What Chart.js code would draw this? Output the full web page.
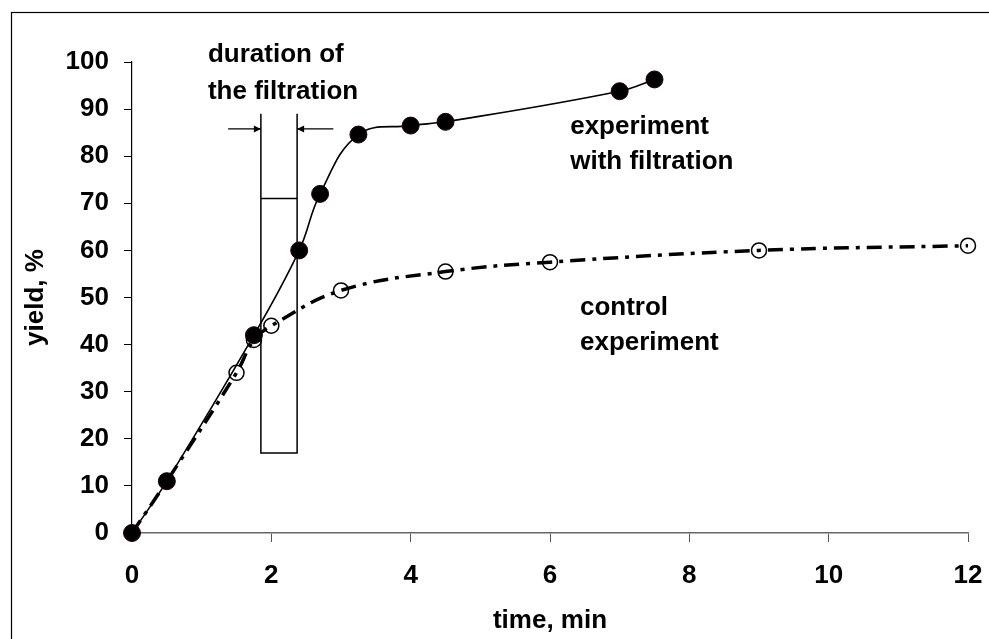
<!DOCTYPE html>
<html>
<head>
<meta charset="utf-8">
<title>Yield vs time</title>
<script src="https://cdn.jsdelivr.net/npm/chart.js@4.4.1/dist/chart.umd.min.js"></script>
<style>
    html, body { margin: 0; padding: 0; background: #fff; }
    #wrap { position: relative; width: 989px; height: 639px; }
</style>
</head>
<body>
<div id="wrap"><canvas id="yieldChart" width="989" height="639"></canvas></div>
<script>
// ---------- Data ----------
const filtTimes = [0, 0.5, 1.75, 2.4, 2.7, 3.25, 4, 4.5, 7, 7.5];
const filtYield = [0, 11, 42, 60, 72, 84.6, 86.5, 87.3, 93.8, 96.3];

const ctrlTimes = [0, 0.5, 1.5, 1.75, 2, 3, 4.5, 6, 9, 12];
const ctrlYield = [0, 11, 34, 41, 44, 51.5, 55.5, 57.5, 60, 61];

const xTicks = [0, 2, 4, 6, 8, 10, 12];
const yTicks = [0, 10, 20, 30, 40, 50, 60, 70, 80, 90, 100];

// filtration window (min) and the box drawn around it (yield %)
const filtStart = 1.85;
const filtEnd = 2.37;
const boxTop = 89;
const boxMid = 71;
const boxBottom = 17;
const arrowYield = 85.8;
const arrowTails = [1.38, 2.89];

const FONT = "'Liberation Sans', Arial, sans-serif";

// ---------- Annotation plugin ----------
const annotations = {
    id: 'annotations',
    beforeDraw(chart) {
        const c = chart.ctx;
        c.save();
        c.strokeStyle = '#000';
        c.lineWidth = 1.2;
        c.strokeRect(11.5, 12.5, 2000, 2000);
        c.restore();
    },
    beforeDatasetsDraw(chart) {
        const c = chart.ctx;
        const xs = chart.scales.x, ys = chart.scales.y;
        const x1 = xs.getPixelForValue(filtStart);
        const x2 = xs.getPixelForValue(filtEnd);
        const yT = ys.getPixelForValue(boxTop);
        const yM = ys.getPixelForValue(boxMid);
        const yB = ys.getPixelForValue(boxBottom);

        c.save();
        c.strokeStyle = '#000';
        c.lineWidth = 1.5;
        c.beginPath();
        c.moveTo(x1, yT); c.lineTo(x1, yB); c.lineTo(x2, yB); c.lineTo(x2, yT);
        c.moveTo(x1, yM); c.lineTo(x2, yM);
        c.stroke();

        // arrows pointing at the filtration window
        const ya = ys.getPixelForValue(arrowYield);
        const drawArrow = (fromX, toX) => {
            const dir = Math.sign(toX - fromX);
            c.lineWidth = 1.2;
            c.beginPath();
            c.moveTo(fromX, ya); c.lineTo(toX, ya);
            c.stroke();
            c.beginPath();
            c.moveTo(toX, ya);
            c.lineTo(toX - dir * 7, ya - 3.5);
            c.lineTo(toX - dir * 7, ya + 3.5);
            c.closePath();
            c.fill();
        };
        drawArrow(xs.getPixelForValue(arrowTails[0]), x1);
        drawArrow(xs.getPixelForValue(arrowTails[1]), x2);
        c.restore();
    },
    afterDraw(chart) {
        const c = chart.ctx;
        const xs = chart.scales.x, ys = chart.scales.y;
        const labels = [
            ['duration of', 1.09, 101.5],
            ['the filtration', 1.09, 93.6],
            ['experiment', 6.29, 86.2],
            ['with filtration', 6.29, 78.8],
            ['control', 6.43, 47.8],
            ['experiment', 6.43, 40.3]
        ];
        c.save();
        c.fillStyle = '#000';
        c.font = 'bold 26px ' + FONT;
        c.textAlign = 'left';
        c.textBaseline = 'middle';
        labels.forEach(([txt, t, y]) => {
            c.fillText(txt, xs.getPixelForValue(t), ys.getPixelForValue(y));
        });
        c.restore();
    }
};

// ---------- Chart ----------
const ctx = document.getElementById('yieldChart').getContext('2d');
const chart = new Chart(ctx, {
    type: 'line',
    data: {
        datasets: [{
            label: 'experiment with filtration',
            data: filtTimes.map((t, i) => ({ x: t, y: filtYield[i] })),
            borderColor: '#000',
            borderWidth: 1.6,
            tension: 0.4,
            clip: false,
            pointRadius: 8.5,
            pointBackgroundColor: '#000',
            pointBorderColor: '#2a0000',
            pointBorderWidth: 1,
            order: 0
        }, {
            label: 'control experiment',
            data: ctrlTimes.map((t, i) => ({ x: t, y: ctrlYield[i] })),
            borderColor: '#000',
            borderWidth: 3.5,
            borderDash: [15, 7, 4, 7],
            tension: 0.4,
            clip: false,
            pointRadius: 7.5,
            pointBackgroundColor: 'rgba(0,0,0,0)',
            pointBorderColor: '#000',
            pointBorderWidth: 1.5,
            order: 1
        }]
    },
    options: {
        responsive: false,
        animation: false,
        layout: { padding: { top: 62, right: 21, left: 0, bottom: 0 } },
        plugins: {
            legend: { display: false },
            tooltip: { enabled: false }
        },
        scales: {
            x: {
                type: 'linear',
                min: 0,
                max: 12,
                afterBuildTicks: s => { s.ticks = xTicks.map(v => ({ value: v })); },
                afterFit: s => { s.height = 106; s.paddingLeft = 0; s.paddingRight = 0; },
                grid: { drawOnChartArea: false, tickLength: 9, tickColor: '#555', tickWidth: 1 },
                border: { color: '#666', width: 1.5 },
                ticks: { color: '#000', padding: 18, font: { family: FONT, size: 26, weight: 'bold' } },
                title: {
                    display: true,
                    text: 'time, min',
                    color: '#000',
                    padding: { top: 0, bottom: 3 },
                    font: { family: FONT, size: 26, weight: 'bold' }
                }
            },
            y: {
                min: 0,
                max: 100,
                afterBuildTicks: s => { s.ticks = yTicks.map(v => ({ value: v })); },
                afterFit: s => { s.width = 132; },
                grid: { drawOnChartArea: false, tickLength: 8, tickColor: '#000', tickWidth: 1 },
                border: { color: '#000', width: 1.2 },
                ticks: { color: '#000', padding: 15, font: { family: FONT, size: 26, weight: 'bold' } },
                title: {
                    display: true,
                    text: 'yield, %',
                    color: '#000',
                    padding: { top: 20, bottom: 0 },
                    font: { family: FONT, size: 26, weight: 'bold' }
                }
            }
        }
    },
    plugins: [annotations]
});
</script>
</body>
</html>
